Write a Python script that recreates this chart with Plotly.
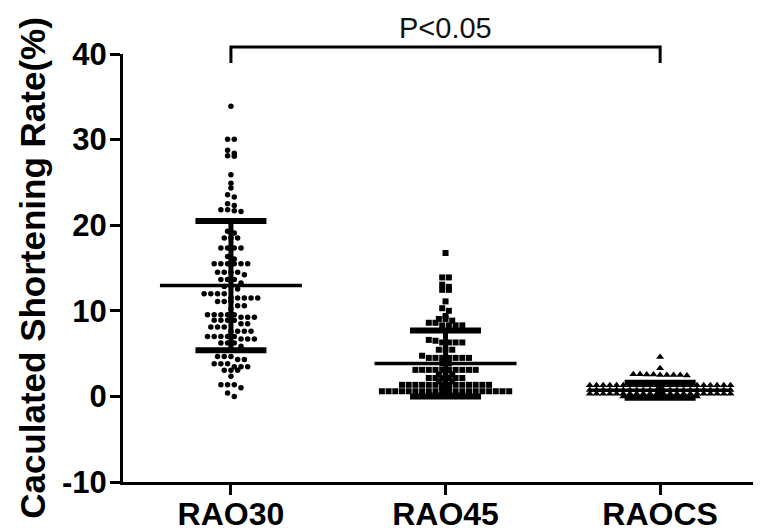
import plotly.graph_objects as go

# ---------------- data ----------------
categories = ["RAO30", "RAO45", "RAOCS"]

rao30 = [33.9,
         30.05, 30.05,
         28.75, 28.4, 28.1, 28.05,
         25.9, 24.9, 24.35, 23.55, 23.3,
         22.5, 22.3, 21.8, 21.8, 21.7, 21.6,
         19.3, 19.1, 18.5, 18.5, 18.5,
         17.35, 17.35, 17.35, 17.35,
         16.35, 16.05,
         15.5, 15.5, 15.5, 15.5, 15.5, 15.5,
         14.5, 14.5, 14.5, 14.5, 14.2,
         13.65, 13.65, 13.65, 13.25,
         12.85, 12.85, 12.55,
         12.0, 12.0, 12.0, 12.0,
         11.5, 11.5, 11.5, 11.5, 11.5,
         11.1, 11.1, 11.1,
         10.6, 10.6, 10.2,
         9.55, 9.55, 9.55, 9.55, 9.55,
         9.25, 9.25, 9.25,
         8.9, 8.9, 8.9, 8.9,
         8.5, 8.5,
         8.1, 8.1, 8.1,
         7.6, 7.6, 7.6, 7.6,
         7.0, 7.0, 7.0, 7.0, 7.0,
         6.7, 6.7, 6.7,
         6.25, 6.25, 6.25, 5.85,
         4.65, 4.65, 4.65, 4.3, 4.3,
         3.8, 3.8, 3.8, 3.45, 3.45, 3.45,
         3.05, 3.05, 3.05, 2.35,
         1.35, 1.35, 1.35, 1.0, 0.4, 0.0]

rao45 = [16.75,
         13.9, 13.9,
         13.05, 12.8,
         12.45, 12.45,
         11.1,
         10.3, 10.0,
         9.4, 9.05, 9.05, 8.85,
         8.6, 8.6, 8.3, 8.3, 8.3, 8.3,
         6.6, 6.5, 6.3, 6.3, 6.3, 6.3,
         5.45, 5.45, 5.45,
         4.75, 4.5, 4.5, 4.5, 4.5, 4.5, 4.5, 4.5,
         3.85, 3.85,
         3.1, 3.1, 3.1, 3.1, 3.1, 3.1, 3.1, 3.1, 3.1, 3.1,
         2.55, 2.55, 2.55,
         2.15, 2.15, 2.15, 2.15, 2.15, 2.15,
         1.75, 1.75, 1.75,
         1.35, 1.35, 1.35, 1.35, 1.35, 1.35, 1.35,
         1.35, 1.35, 1.35, 1.35, 1.35, 1.35, 1.35,
         1.0, 1.0,
         0.6, 0.6, 0.6, 0.6, 0.6, 0.6, 0.6, 0.6, 0.6, 0.6,
         0.6, 0.6, 0.6, 0.6, 0.6, 0.6, 0.6, 0.6, 0.6, 0.6,
         0.15, 0.15, 0.15, 0.15, 0.15, 0.15]

raocs = [4.6, 3.3,
         2.6, 2.55, 2.5, 2.5, 2.45, 2.5, 2.5, 2.55, 2.6,
         1.3, 1.3, 1.3, 1.3, 1.3, 1.3, 1.3, 1.3, 1.3, 1.3, 1.3,
         1.3, 1.3, 1.3, 1.3, 1.3, 1.3, 1.3, 1.3, 1.3, 1.3, 1.3,
         0.75, 0.75, 0.75, 0.75, 0.75, 0.75, 0.75, 0.75, 0.75, 0.75, 0.75,
         0.75, 0.75, 0.75, 0.75, 0.75, 0.75, 0.75, 0.75, 0.75, 0.75, 0.75,
         0.3, 0.3, 0.3, 0.3, 0.3, 0.3, 0.3, 0.3, 0.3, 0.3, 0.3,
         0.3, 0.3, 0.3, 0.3, 0.3, 0.3, 0.3, 0.3, 0.3, 0.3, 0.3,
         0.0, 0.0, 0.0, 0.0, 0.0, 0.0, 0.0, 0.0, 0.0, 0.0, 0.0, 0.0]

group_values = [rao30, rao45, raocs]
means = [12.95, 3.85, 0.72]
sds = [7.55, 3.85, 0.88]

y_ticks = [-10, 0, 10, 20, 30, 40]
y_tick_labels = ["-10", "0", "10", "20", "30", "40"]
y_title = "Caculated Shortening Rate(%)"
p_text = "P<0.05"

# ---------------- styling / layout constants ----------------
# the page body has an 8px default margin, so the figure is drawn 8px in
OFF = 8
SCREEN_W, SCREEN_H = 761, 530
W, H = SCREEN_W - OFF, SCREEN_H - OFF
PLOT_L, PLOT_T, PLOT_B, PLOT_R = 123, 54, 482, 761   # in screen pixels
ML, MT = PLOT_L - OFF, PLOT_T - OFF
MB = H - (PLOT_B - OFF)
MR = W - (PLOT_R - OFF)
XR = [-0.503, 2.47]
PLOT_W = W - ML - MR
PLOT_H = H - MT - MB
PX_PER_X = PLOT_W / (XR[1] - XR[0])


def paper_y(screen_y):
    return (PLOT_B - screen_y) / PLOT_H


symbols = ["circle", "square", "triangle-up"]
msizes = [5.5, 6, 7]
row_tol = [0.5, 0.3, 0.2]
STEP_PX = 6.7
MEAN_HALF_PX = 71
CAP_HALF_PX = 35.5
FONT = "Liberation Sans, Arial, sans-serif"


def swarm(vals, tol, step):
    srt = sorted(vals, reverse=True)
    rows = []
    for v in srt:
        if rows and rows[-1][0] - v <= tol + 1e-9:
            rows[-1][1].append(v)
        else:
            rows.append([v, [v]])
    xs, ys = [], []
    for _, members in rows:
        n = len(members)
        for k, v in enumerate(members):
            xs.append((k - (n - 1) / 2) * step)
            ys.append(v)
    return xs, ys


fig = go.Figure()
step = STEP_PX / PX_PER_X
for i, vals in enumerate(group_values):
    offs, ys = swarm(vals, row_tol[i], step)
    fig.add_trace(go.Scatter(
        x=[i + o for o in offs], y=ys, mode="markers",
        marker=dict(symbol=symbols[i], size=msizes[i], color="black",
                    line=dict(width=0)),
        showlegend=False, hoverinfo="skip", cliponaxis=False))

mh = MEAN_HALF_PX / PX_PER_X
ch = CAP_HALF_PX / PX_PER_X
for i, (m, s) in enumerate(zip(means, sds)):
    fig.add_trace(go.Scatter(x=[i, i], y=[m - s, m + s], mode="lines",
                             line=dict(color="black", width=5),
                             showlegend=False, hoverinfo="skip"))
    fig.add_trace(go.Scatter(x=[i - ch, i + ch, None, i - ch, i + ch],
                             y=[m + s, m + s, None, m - s, m - s], mode="lines",
                             line=dict(color="black", width=6),
                             showlegend=False, hoverinfo="skip"))
    fig.add_trace(go.Scatter(x=[i - mh, i + mh], y=[m, m], mode="lines",
                             line=dict(color="black", width=3.5),
                             showlegend=False, hoverinfo="skip"))

# significance bracket between first and last group
y_top = paper_y(47)
y_leg = paper_y(63)
last = len(categories) - 1
fig.add_shape(type="path", xref="x", yref="paper",
              path=f"M 0,{y_leg} L 0,{y_top} L {last},{y_top} L {last},{y_leg}",
              line=dict(color="black", width=3))
fig.add_annotation(x=last / 2, xref="x", y=paper_y(28), yref="paper",
                   text=p_text, showarrow=False, yanchor="middle",
                   font=dict(family=FONT, size=29, color="#111"))

axis_common = dict(showline=True, linecolor="black", linewidth=3,
                   ticks="outside", ticklen=10, tickwidth=3, tickcolor="black",
                   showgrid=False, zeroline=False, automargin=False)

fig.update_layout(
    width=W, height=H,
    margin=dict(l=ML, r=MR, t=MT, b=MB, pad=0),
    plot_bgcolor="white", paper_bgcolor="white",
    xaxis=dict(range=XR, tickvals=list(range(len(categories))), ticktext=categories,
               ticklabelstandoff=-8,
               tickfont=dict(family=FONT, size=32, color="black", weight="bold"),
               **axis_common),
    yaxis=dict(range=[-10, 40], tickvals=y_ticks, ticktext=y_tick_labels,
               ticklabelstandoff=-3,
               tickfont=dict(family=FONT, size=31, color="black", weight="bold"),
               title=dict(text=y_title, standoff=6,
                          font=dict(family=FONT, size=35, color="black", weight="bold")),
               **axis_common),
)

fig.write_html("out.html")
